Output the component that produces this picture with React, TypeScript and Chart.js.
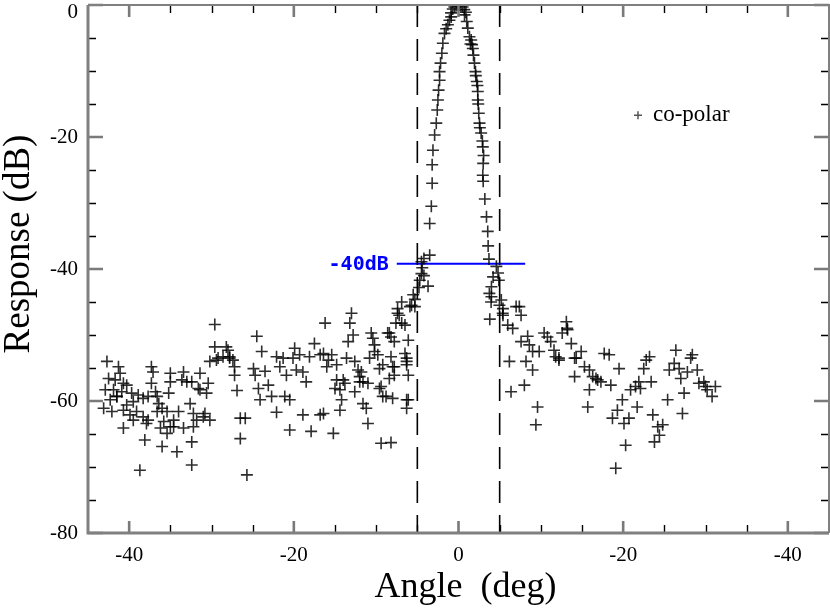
import React, { useEffect, useRef } from "react";
import { Chart, registerables } from "chart.js";

Chart.register(...registerables);

// ---- axis ranges & ticks ----
const X_MIN = -45;
const X_MAX = 45;
const Y_MIN = -80;
const Y_MAX = 0;
const xMajorTicks = [-40, -20, 0, 20, 40];
const yMajorTicks = [-80, -60, -40, -20, 0];
const MINOR_STEP = 5;

// ---- annotations ----
const beamEdges = [-5, 5];
const refLevel = -39.2;
const refSpan = [-7.5, 8.1];
const refLabel = "-40dB";
const seriesLabel = "co-polar";
const xTitle = "Angle  (deg)";
const yTitle = "Response (dB)";

// ---- measured points [angle, response] ----
const mainLobeLeft: number[][] = [
  [-8.4, -49.7], [-7.6, -48.2], [-7.2, -47.0], [-7.4, -46.0], [-6.9, -45.0], [-5.7, -45.5],
  [-5.3, -44.6], [-5.5, -43.9], [-4.8, -42.8], [-4.7, -41.7], [-3.7, -42.6], [-4.5, -40.7],
  [-4.2, -41.0], [-4.4, -39.8], [-4.5, -38.9], [-4.2, -38.4], [-3.5, -37.9], [-3.5, -33.1],
  [-3.3, -30.5], [-3.2, -27.0], [-3.2, -24.2], [-3.1, -22.0], [-2.9, -19.7], [-2.7, -17.9],
  [-2.58, -15.9], [-2.5, -14.4], [-2.42, -12.9], [-2.3, -11.4], [-2.3, -10.1], [-2.18, -8.8],
  [-2.02, -7.3], [-1.9, -5.8], [-1.7, -4.3], [-1.5, -3.6], [-1.29, -3.0], [-1.1, -2.3], [-0.89, -1.8],
];

const mainLobeTop: number[][] = [
  [-0.9, -1.2], [-0.7, -0.6], [-0.5, -0.3], [-0.3, -0.1], [-0.1, 0], [0.1, 0],
  [0.3, -0.1], [0.5, -0.3], [0.7, -0.7], [0.9, -1.1],
];

const mainLobeRight: number[][] = [
  [0.73, -1.5], [1.0, -2.5], [1.13, -3.5], [1.33, -4.8], [1.54, -5.3], [1.45, -5.9], [1.65, -6.0],
  [1.74, -6.6], [1.82, -7.6], [1.94, -8.8], [2.06, -10.1], [2.1, -10.7], [2.22, -11.6], [2.3, -12.2],
  [2.34, -13.1], [2.34, -14.4], [2.4, -15.0], [2.46, -16.4], [2.55, -17.9], [2.6, -18.6], [2.75, -19.4],
  [2.9, -20.6], [2.95, -21.5], [3.05, -22.8], [3.0, -24.0], [2.95, -25.8], [3.0, -26.7], [3.2, -29.4],
  [3.4, -32.1], [3.55, -34.3], [3.6, -36.5], [3.7, -38.5], [4.6, -39.6], [4.8, -40.6], [4.2, -41.2],
  [4.9, -41.7], [4.0, -42.7], [3.75, -43.7], [4.0, -44.2], [5.2, -44.7],
];

const leftFar: number[][] = [
  [-42.7, -54.0], [-41.3, -54.8], [-41.1, -55.8], [-42.5, -56.6], [-41.7, -56.8], [-40.7, -57.3],
  [-40.3, -57.6], [-42.9, -58.3], [-41.9, -58.3], [-40.9, -58.6], [-41.5, -59.3], [-43.1, -61.1],
  [-42.1, -61.6], [-40.7, -61.4], [-39.9, -62.1], [-40.3, -60.6], [-39.5, -60.1], [-38.9, -59.1],
  [-38.3, -59.6], [-39.1, -61.6], [-38.3, -62.4], [-37.7, -62.9], [-39.5, -62.9], [-40.7, -64.1],
  [-37.3, -54.8], [-37.1, -55.6], [-37.3, -57.3], [-36.8, -58.6], [-37.7, -59.3], [-36.4, -60.4],
  [-36.0, -61.1], [-36.6, -61.6], [-35.8, -63.1], [-36.2, -64.1], [-35.4, -61.6], [-35.0, -55.8],
  [-35.0, -57.1], [-35.2, -58.8], [-33.4, -55.6], [-33.6, -56.8], [-33.0, -57.1], [-33.4, -64.1],
  [-34.6, -63.9], [-34.0, -61.6], [-32.6, -60.4], [-32.2, -61.9], [-31.4, -55.8], [-30.4, -57.3],
  [-31.4, -58.3], [-31.8, -62.9], [-30.8, -61.9], [-30.2, -62.9], [-38.1, -65.9], [-36.0, -66.9],
  [-32.4, -66.2], [-29.6, -51.8], [-28.2, -51.8], [-29.4, -53.8], [-28.6, -53.3], [-27.8, -53.3],
  [-30.2, -54.0], [-39.7, -58.8], [-37.9, -63.4], [-36.6, -59.3], [-35.4, -64.9], [-35.0, -63.9],
  [-34.6, -62.9], [-32.4, -57.1], [-31.6, -58.1], [-30.6, -58.8], [-32.2, -63.9], [-31.0, -62.4],
  [-42.3, -59.8], [-41.5, -59.3], [-38.7, -70.5], [-34.2, -67.7], [-32.4, -69.7], [-25.7, -71.2],
  [-29.6, -48.4],
];

const leftMid: number[][] = [
  [-29.2, -53.5], [-28.0, -52.3], [-27.8, -53.5], [-27.4, -53.8], [-27.2, -54.8], [-27.2, -56.1],
  [-26.9, -58.4], [-26.5, -62.6], [-25.9, -62.6], [-26.5, -65.7], [-24.5, -50.2], [-23.9, -52.5],
  [-24.9, -55.1], [-24.7, -56.1], [-23.5, -55.5], [-24.3, -58.1], [-24.1, -59.8], [-23.1, -57.6],
  [-22.7, -59.3], [-22.1, -53.3], [-21.3, -53.5], [-21.7, -54.8], [-20.9, -56.1], [-22.1, -61.7],
  [-21.1, -59.3], [-20.5, -59.8], [-20.5, -64.4], [-19.9, -52.0], [-19.7, -55.3], [-20.1, -53.5],
  [-19.3, -53.0], [-18.9, -55.6], [-18.5, -57.1], [-18.1, -53.3], [-17.5, -51.3], [-16.8, -53.0],
  [-18.9, -62.1], [-16.8, -62.1], [-17.9, -64.6], [-15.2, -64.9], [-11.0, -63.4], [-9.4, -66.4],
  [-8.2, -66.3], [-15.8, -53.8], [-14.0, -56.8], [-12.0, -56.3], [-11.6, -57.1], [-9.6, -55.1],
  [-9.4, -57.8], [-8.8, -59.3], [-7.8, -56.1], [-8.0, -54.8], [-6.3, -53.5], [-6.3, -54.5], [-6.1, -59.8],
];

const leftNear: number[][] = [
  [-16.2, -48.2], [-13.0, -46.7], [-13.2, -48.2], [-12.8, -50.0], [-13.4, -51.0], [-10.6, -49.7],
  [-10.4, -50.5], [-10.2, -51.5], [-8.6, -49.7], [-8.2, -50.3], [-7.8, -51.0], [-6.1, -50.8],
  [-7.4, -46.7], [-6.9, -48.2], [-6.5, -48.5], [-5.9, -45.7], [-5.3, -45.7], [-16.4, -52.8],
  [-15.4, -53.0], [-16.0, -54.8], [-14.8, -54.5], [-13.6, -53.5], [-12.6, -54.0], [-12.2, -55.3],
  [-11.8, -55.6], [-10.8, -53.5], [-10.2, -52.5], [-9.8, -53.0], [-9.2, -54.5], [-8.2, -53.3],
  [-7.8, -54.8], [-8.4, -56.6], [-6.5, -52.8], [-6.3, -54.0], [-6.1, -56.1], [-14.8, -56.8],
  [-15.0, -58.1], [-14.4, -58.3], [-13.8, -57.3], [-14.2, -59.8], [-14.4, -61.4], [-12.6, -58.6],
  [-12.0, -57.1], [-11.0, -57.3], [-11.6, -60.4], [-11.2, -61.1], [-9.6, -58.1], [-9.2, -59.3],
  [-8.0, -59.6], [-6.3, -59.8], [-6.3, -61.1], [-16.4, -61.9],
];

const rightNear: number[][] = [
  [3.8, -47.6], [3.96, -45.0], [4.97, -45.5], [5.4, -46.0], [5.37, -46.7], [5.4, -47.0],
  [5.98, -48.5], [6.58, -49.0], [7.0, -45.7], [7.39, -45.7], [7.6, -47.0], [8.4, -50.2],
  [6.18, -54.0], [6.38, -58.6], [8.0, -57.6], [8.2, -54.0], [9.0, -55.3], [9.6, -60.9],
  [9.4, -63.6], [7.6, -51.0], [8.6, -51.5], [9.0, -52.5], [9.8, -52.5], [10.4, -49.7],
  [10.8, -50.3], [11.2, -51.0], [11.6, -52.3], [11.8, -53.3], [12.2, -53.8], [13.1, -48.0],
  [13.2, -49.0], [13.7, -51.3], [14.3, -53.5], [14.9, -52.5], [15.3, -54.8], [15.9, -55.3],
  [16.3, -56.3], [16.7, -56.6], [15.9, -58.3], [15.7, -60.9], [14.1, -56.3], [12.6, -49.7],
  [13.25, -49.2], [14.1, -53.5], [12.2, -53.5],
];

const rightFar: number[][] = [
  [16.9, -56.8], [17.3, -57.1], [17.7, -52.8], [18.3, -53.0], [18.5, -57.6], [19.5, -55.1],
  [19.9, -59.8], [19.3, -61.4], [18.7, -62.6], [20.1, -63.4], [20.7, -62.6], [20.3, -66.7],
  [19.1, -70.2], [20.9, -58.3], [21.5, -57.8], [21.9, -57.1], [22.1, -58.1], [21.7, -60.9],
  [22.5, -55.1], [22.8, -53.8], [23.2, -53.3], [23.4, -57.1], [23.6, -62.1], [24.2, -63.9],
  [24.8, -63.6], [24.4, -65.2], [23.8, -66.2], [25.4, -59.8], [25.6, -55.3], [26.2, -54.3],
  [26.4, -52.3], [26.8, -55.1], [27.0, -56.6], [27.4, -58.8], [27.2, -61.9], [27.8, -55.6],
  [28.2, -53.5], [28.4, -53.0], [29.0, -55.3], [29.2, -57.3], [29.8, -57.1], [30.2, -58.3],
  [30.8, -59.3], [31.2, -57.8], [30.0, -57.8],
];

const allPoints = [
  ...leftFar, ...leftMid, ...leftNear, ...mainLobeLeft, ...mainLobeTop,
  ...mainLobeRight, ...rightNear, ...rightFar,
];

const SERIF = "'Liberation Serif', 'Times New Roman', serif";
const TICK_FONT_SIZE = 21;

const isMajorX = (v: number) => xMajorTicks.includes(v);
const isMajorY = (v: number) => yMajorTicks.includes(v);

const framePlugin = {
  id: "frameTicks",
  afterDatasetsDraw(chart: any) {
    const { ctx, chartArea, scales } = chart;
    const { left, right, top, bottom } = chartArea;
    const x = scales.x;
    const y = scales.y;
    ctx.save();
    // minor ticks
    ctx.strokeStyle = "#000";
    ctx.lineWidth = 1.4;
    ctx.beginPath();
    for (let v = X_MIN + MINOR_STEP; v < X_MAX; v += MINOR_STEP) {
      if (isMajorX(v)) continue;
      const px = Math.round(x.getPixelForValue(v)) + 0.5;
      ctx.moveTo(px, bottom); ctx.lineTo(px, bottom - 8);
      ctx.moveTo(px, top); ctx.lineTo(px, top + 8);
    }
    for (let v = Y_MIN + MINOR_STEP; v < Y_MAX; v += MINOR_STEP) {
      if (isMajorY(v)) continue;
      const py = Math.round(y.getPixelForValue(v)) + 0.5;
      ctx.moveTo(left, py); ctx.lineTo(left + 8, py);
      ctx.moveTo(right, py); ctx.lineTo(right - 8, py);
    }
    ctx.stroke();
    // major ticks
    ctx.strokeStyle = "#7a7a7a";
    ctx.lineWidth = 2.6;
    ctx.beginPath();
    xMajorTicks.forEach((v) => {
      const px = x.getPixelForValue(v);
      ctx.moveTo(px, bottom); ctx.lineTo(px, bottom - 12);
      ctx.moveTo(px, top); ctx.lineTo(px, top + 12);
    });
    yMajorTicks.forEach((v) => {
      const py = y.getPixelForValue(v);
      ctx.moveTo(left, py); ctx.lineTo(left + 15, py);
      ctx.moveTo(right, py); ctx.lineTo(right - 15, py);
    });
    ctx.stroke();
    // frame
    ctx.strokeStyle = "#808080";
    ctx.lineWidth = 3;
    ctx.beginPath();
    ctx.moveTo(left, top); ctx.lineTo(left, bottom); ctx.lineTo(right, bottom);
    ctx.stroke();
    ctx.lineWidth = 2;
    ctx.beginPath();
    ctx.moveTo(left, top); ctx.lineTo(right, top); ctx.lineTo(right, bottom);
    ctx.stroke();
    ctx.restore();
  },
  afterDraw(chart: any) {
    const { ctx, chartArea, scales } = chart;
    const x = scales.x;
    const y = scales.y;
    ctx.save();
    // top y tick label (nudged down so it stays inside the canvas)
    ctx.fillStyle = "#000";
    ctx.font = `${TICK_FONT_SIZE}px ${SERIF}`;
    ctx.textAlign = "right";
    ctx.textBaseline = "middle";
    ctx.fillText(String(Y_MAX), chartArea.left - 10, y.getPixelForValue(Y_MAX) + 7);
    // axis titles
    ctx.font = `37px ${SERIF}`;
    ctx.textAlign = "center";
    ctx.textBaseline = "alphabetic";
    ctx.save();
    ctx.translate(29, 244);
    ctx.rotate(-Math.PI / 2);
    ctx.fillText(yTitle, 0, 0);
    ctx.restore();
    ctx.font = `36px ${SERIF}`;
    ctx.fillText(xTitle, (chartArea.left + chartArea.right) / 2 + 7, 597);
    // reference label
    ctx.fillStyle = "#0000ff";
    ctx.font = `bold 20px 'DejaVu Sans Mono', 'Liberation Mono', monospace`;
    ctx.textAlign = "right";
    ctx.textBaseline = "middle";
    ctx.fillText(refLabel, x.getPixelForValue(refSpan[0]) - 8, y.getPixelForValue(refLevel) + 1);
    // legend
    const lx = x.getPixelForValue(21.8);
    const ly = y.getPixelForValue(-16.7);
    ctx.strokeStyle = "#555";
    ctx.lineWidth = 1.5;
    ctx.beginPath();
    ctx.moveTo(lx - 4, ly); ctx.lineTo(lx + 4, ly);
    ctx.moveTo(lx, ly - 4); ctx.lineTo(lx, ly + 4);
    ctx.stroke();
    ctx.fillStyle = "#000";
    ctx.font = `23px ${SERIF}`;
    ctx.textAlign = "left";
    ctx.textBaseline = "alphabetic";
    ctx.fillText(seriesLabel, lx + 15, ly + 6);
    ctx.restore();
  },
};

export default function App() {
  const canvasRef = useRef<HTMLCanvasElement | null>(null);

  useEffect(() => {
    const canvas = canvasRef.current;
    if (!canvas) return;
    const chart = new Chart(canvas, {
      type: "scatter",
      data: {
        datasets: [
          {
            type: "scatter",
            label: seriesLabel,
            data: allPoints.map(([a, r]) => ({ x: a, y: r })),
            pointStyle: "cross",
            pointRadius: 6,
            borderColor: "rgba(0,0,0,0.82)",
            backgroundColor: "rgba(0,0,0,0)",
            borderWidth: 1.6,
          } as any,
          ...beamEdges.map((e) => ({
            type: "line",
            label: "edge",
            data: [{ x: e, y: Y_MAX }, { x: e, y: Y_MIN }],
            borderColor: "#000",
            borderWidth: 1.6,
            borderDash: [22, 12],
            pointRadius: 0,
            fill: false,
          } as any)),
          {
            type: "line",
            label: "ref",
            data: [{ x: refSpan[0], y: refLevel }, { x: refSpan[1], y: refLevel }],
            borderColor: "#0000ff",
            borderWidth: 2,
            pointRadius: 0,
            fill: false,
          } as any,
        ],
      },
      options: {
        animation: false,
        responsive: true,
        maintainAspectRatio: false,
        layout: { autoPadding: false, padding: { top: 5, right: 1, left: 0, bottom: 0 } },
        plugins: { legend: { display: false }, tooltip: { enabled: false } },
        scales: {
          x: {
            type: "linear",
            min: X_MIN,
            max: X_MAX,
            grid: { display: false, drawTicks: false },
            border: { display: false },
            afterBuildTicks: (s: any) => { s.ticks = xMajorTicks.map((v) => ({ value: v })); },
            afterFit: (s: any) => {
              s.height = 81;
              s.paddingLeft = 0; s.paddingRight = 0; s.paddingTop = 0; s.paddingBottom = 0;
            },
            ticks: {
              padding: 10,
              maxRotation: 0,
              autoSkip: false,
              color: "#000",
              font: { family: SERIF, size: TICK_FONT_SIZE },
              callback: (v: any) => (Number(v) === 0 ? "0" : "-" + Math.abs(Number(v))),
            },
          },
          y: {
            type: "linear",
            min: Y_MIN,
            max: Y_MAX,
            grid: { display: false, drawTicks: false },
            border: { display: false },
            afterBuildTicks: (s: any) => { s.ticks = yMajorTicks.map((v) => ({ value: v })); },
            afterFit: (s: any) => {
              s.width = 88;
              s.paddingLeft = 0; s.paddingRight = 0; s.paddingTop = 0; s.paddingBottom = 0;
            },
            ticks: {
              padding: 10,
              autoSkip: false,
              color: "#000",
              font: { family: SERIF, size: TICK_FONT_SIZE },
              callback: (v: any) => (Number(v) === Y_MAX ? "" : String(v)),
            },
          },
        },
      } as any,
      plugins: [framePlugin as any],
    });
    return () => chart.destroy();
  }, []);

  return (
    <div style={{ position: "fixed", left: 0, top: 0, width: 830, height: 614, background: "#fff" }}>
      <canvas ref={canvasRef} />
    </div>
  );
}
